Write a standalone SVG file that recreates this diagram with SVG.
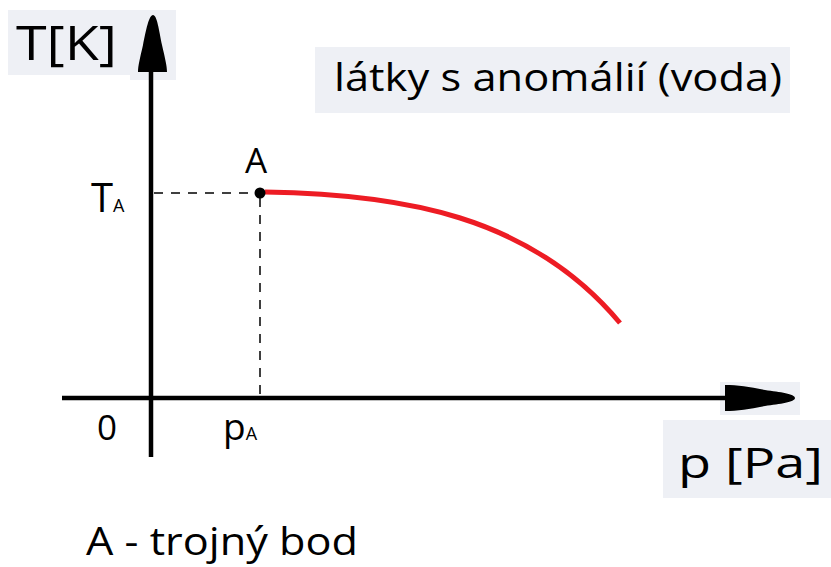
<svg xmlns="http://www.w3.org/2000/svg" width="831" height="567" viewBox="0 0 831 567">
<style>
.bg{fill:#eef0f5}
.t{font-family:"Open Sans","DejaVu Sans",sans-serif;fill:#000}
.axis{stroke:#000;stroke-width:4.5;fill:none}
.dash{stroke:#000;stroke-width:1.5;stroke-dasharray:9 8;fill:none}
.head{fill:#000}
</style>
<rect width="831" height="567" fill="#fff"/>
<g id="backgrounds">
<rect class="bg" x="8" y="10" width="122" height="65"/>
<rect class="bg" x="130" y="10" width="46" height="70"/>
<rect class="bg" x="315" y="47" width="475" height="66"/>
<rect class="bg" x="720" y="382" width="80" height="33"/>
<rect class="bg" x="663" y="420" width="168" height="78"/>
</g>
<g id="connectors">
<line class="axis" x1="151" y1="60" x2="151" y2="457"/>
<path class="head" d="M153,15 C149,15 146,30 143,45 C140,58 138,66 138,72 L167,72 C167,66 165,58 162,45 C159,30 157,15 153,15 Z"/>
<line class="axis" x1="62" y1="398" x2="740" y2="398"/>
<path class="head" d="M795,398 C795,394 780,392 765,390 C750,387 738,385 725,385 L725,411 C738,411 750,409 765,406 C780,404 795,402 795,398 Z"/>
<line class="dash" x1="154" y1="193" x2="255" y2="193"/>
<line class="dash" x1="260" y1="198" x2="260" y2="398"/>
<path d="M265,192 C400,194 530,215 620,323" stroke="#ed1c24" stroke-width="5" fill="none"/>
</g>
<g id="pointA">
<circle cx="260" cy="193" r="5.5" fill="#000"/>
<text class="t" x="245" y="173" font-size="35">A</text>
</g>
<g id="labels">
<text class="t" x="16" y="60" font-size="48" textLength="101" lengthAdjust="spacingAndGlyphs">T[K]</text>
<text class="t" x="334" y="91" font-size="39" textLength="448" lengthAdjust="spacingAndGlyphs">látky s anomálií (voda)</text>
<text class="t" x="91" y="212" font-size="40">T<tspan font-size="18">A</tspan></text>
<text class="t" x="97" y="440" font-size="35">0</text>
<text class="t" x="223" y="440" font-size="37">p<tspan font-size="18">A</tspan></text>
<text class="t" x="678" y="478" font-size="42" textLength="145" lengthAdjust="spacingAndGlyphs">p [Pa]</text>
<text class="t" x="86" y="555" font-size="39" textLength="272" lengthAdjust="spacingAndGlyphs">A - trojný bod</text>
</g>
</svg>
